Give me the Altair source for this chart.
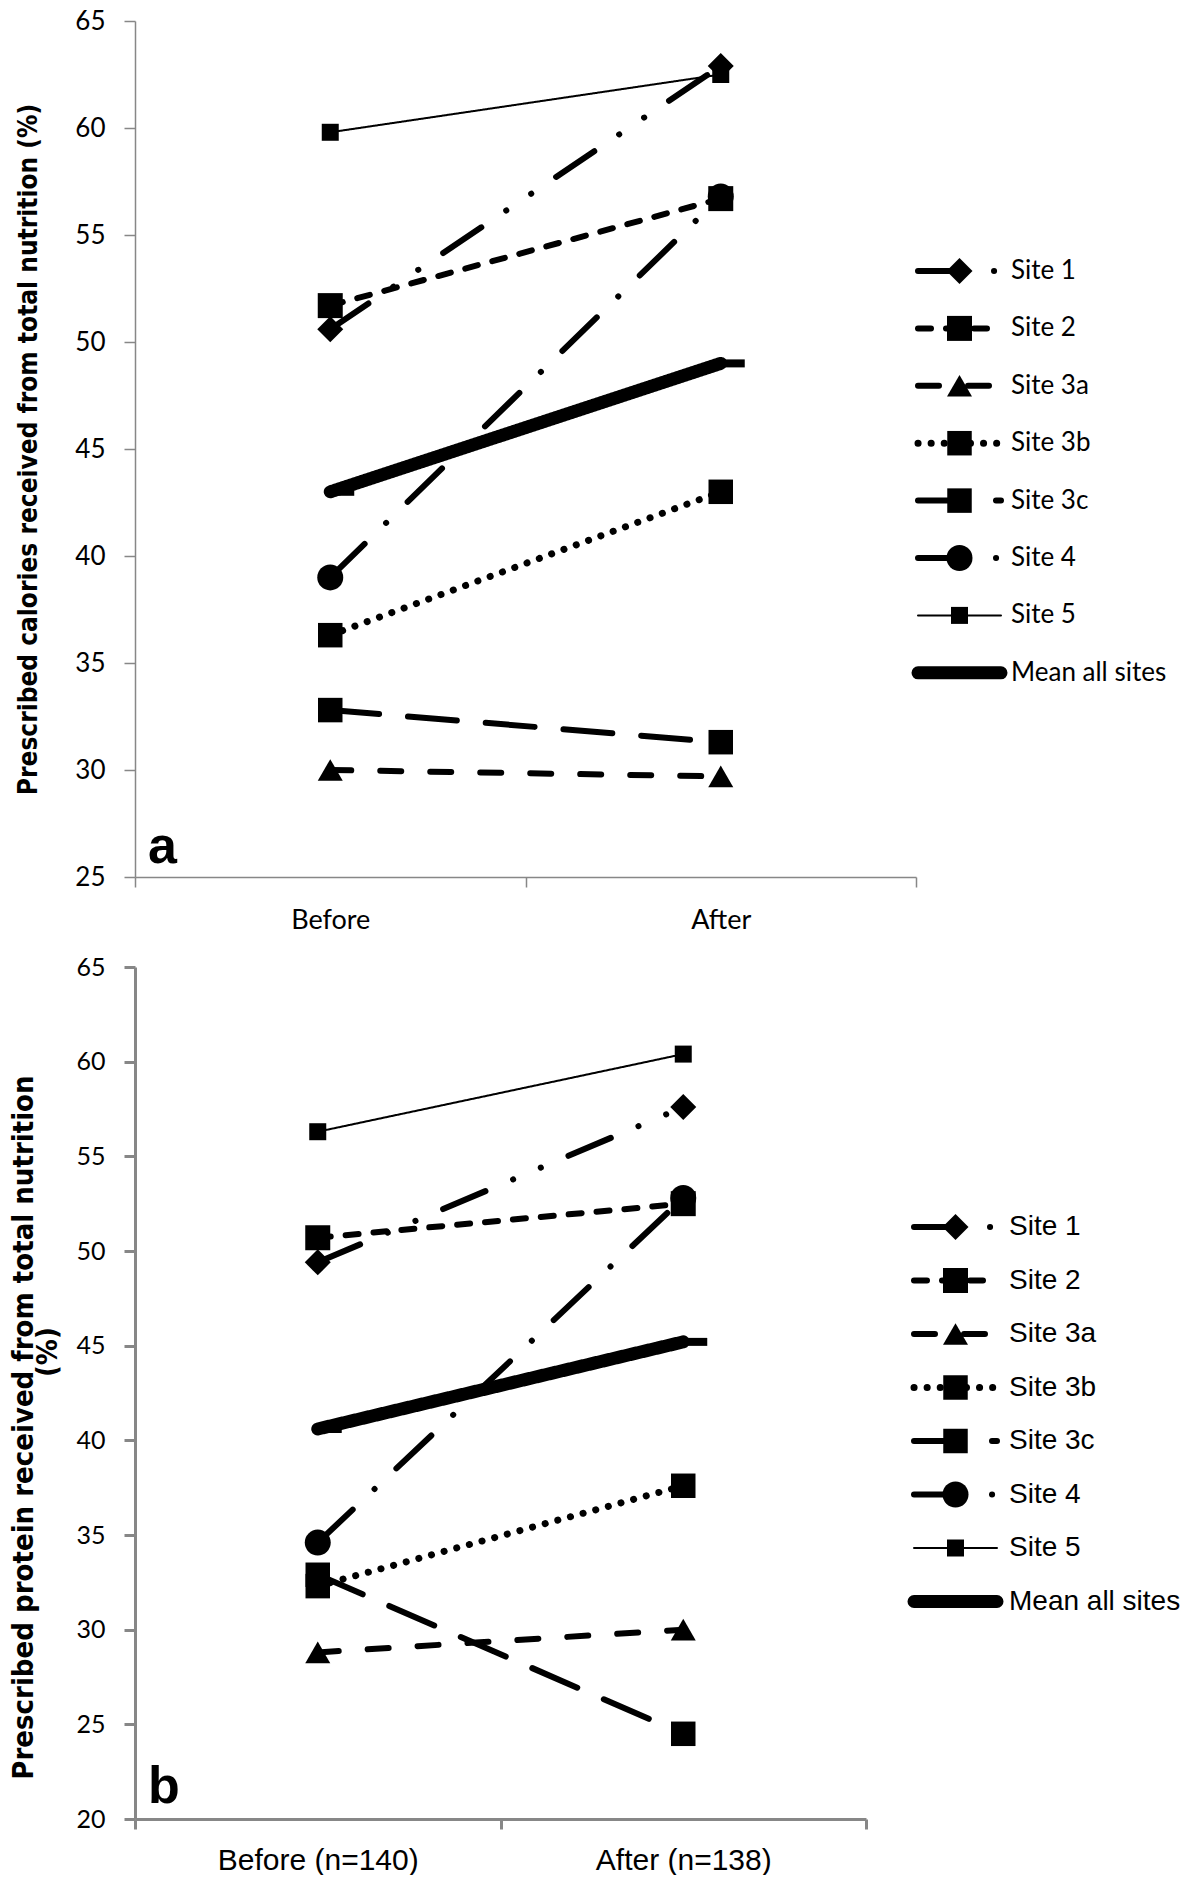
import altair as alt
import pandas as pd

# ---------------- data ----------------
sites = ["Site 1", "Site 2", "Site 3a", "Site 3b", "Site 3c", "Site 4", "Site 5", "Mean all sites"]

phases_a = ["Before", "After"]
calories_before = [50.6, 51.7, 30.0, 36.3, 32.8, 39.0, 59.8, 43.0]
calories_after = [62.9, 56.7, 29.7, 43.0, 31.3, 56.8, 62.5, 49.0]

phases_b = ["Before (n=140)", "After (n=138)"]
protein_before = [49.4, 50.7, 28.8, 32.3, 32.9, 34.6, 56.3, 40.6]
protein_after = [57.6, 52.5, 30.0, 37.6, 24.5, 52.8, 60.4, 45.2]

ticks_a = [25, 30, 35, 40, 45, 50, 55, 60, 65]
ticks_b = [20, 25, 30, 35, 40, 45, 50, 55, 60, 65]

title_a = "Prescribed calories received from total nutrition (%)"
title_b = "Prescribed  protein  received  from total  nutrition"
title_b_unit = "(%)"

# ---------------- styles ----------------
MEAN_BAR = "M0,-0.8L4.8,-0.8L4.8,0.8L0,0.8Z"
dashes = [[46, 30, 0.1, 30, 0.1, 30], [13, 15], [21, 29], [0.1, 13], [49, 29],
          [48, 30, 0.1, 30], [1, 0], [1, 0]]
widths = [6, 6, 6, 7, 6, 6, 2, 13]
shapes = ["diamond", "square", "triangle-up", "square", "square", "circle", "square", MEAN_BAR]
sizes = [676, 625, 625, 600, 600, 676, 289, 100]
legend_sizes = [530, 420, 480, 420, 450, 530, 289, 0]

GRAY = "#878787"
NARROW = "Liberation Sans Narrow, Arial Narrow, DejaVu Sans Condensed, Liberation Sans"


def long_table(phases, before, after):
    rows = []
    for s, b, a in zip(sites, before, after):
        rows.append({"site": s, "phase": phases[0], "value": b})
        rows.append({"site": s, "phase": phases[1], "value": a})
    return pd.DataFrame(rows)


def dash_enc():
    return alt.StrokeDash("site:N", scale=alt.Scale(domain=sites, range=dashes), legend=None)


def width_enc():
    return alt.StrokeWidth("site:N", scale=alt.Scale(type="ordinal", domain=sites, range=widths), legend=None)


def shape_enc():
    return alt.Shape("site:N", scale=alt.Scale(domain=sites, range=shapes), legend=None)


def panel(df, phases, ticks, ytitle, letter, W, H, ylab_size, xfont, xsize, xpad, axis_w,
          tfont_size, title_x, title_y, letter_off, unit=None, unit_x=0):
    x = alt.X("phase:N", sort=phases, title=None, bandPosition=0.5,
              scale=alt.Scale(type="band", domain=phases, paddingInner=0, paddingOuter=0),
              axis=alt.Axis(labelAngle=0, tickBand="extent", grid=False, labelLimit=0,
                            domainColor=GRAY, domainWidth=axis_w, tickColor=GRAY, tickWidth=axis_w,
                            tickSize=10, labelFont=xfont, labelFontSize=xsize, labelColor="black",
                            labelPadding=xpad))
    y = alt.Y("value:Q", scale=alt.Scale(domain=[ticks[0], ticks[-1]], nice=False, zero=False),
              axis=alt.Axis(values=ticks, grid=False, title=ytitle,
                            domainColor=GRAY, domainWidth=axis_w, tickColor=GRAY, tickWidth=axis_w,
                            tickSize=11, labelFont="Lato", labelFontSize=ylab_size, labelColor="black",
                            labelPadding=19, titleFont=NARROW, titleFontWeight="bold",
                            titleFontSize=tfont_size, titleColor="black", titleX=title_x,
                            titleY=title_y, titleBaseline="middle"))
    base = alt.Chart(df)
    lines = base.mark_line(color="black", strokeCap="round", strokeJoin="round").encode(
        x=x, y=y, detail="site:N", strokeDash=dash_enc(), strokeWidth=width_enc())
    pts = base.mark_point(filled=True, color="black", opacity=1, strokeWidth=0).encode(
        x=x, y=y, shape=shape_enc(),
        size=alt.Size("site:N", scale=alt.Scale(type="ordinal", domain=sites, range=sizes), legend=None))
    lab = alt.Chart(pd.DataFrame({"t": [letter]})).mark_text(
        align="left", baseline="alphabetic", font="Liberation Sans", fontWeight="bold",
        fontSize=52, color="black").encode(text="t:N", x=alt.value(13), y=alt.value(H - letter_off))
    layers = [lines, pts, lab]
    if unit is not None:
        layers.append(alt.Chart(pd.DataFrame({"t": [unit]})).mark_text(
            align="center", baseline="middle", angle=270, font=NARROW, fontWeight="bold",
            fontSize=tfont_size, color="black").encode(
            text="t:N", x=alt.value(unit_x), y=alt.value(H * 0.452)))
    return alt.layer(*layers).properties(width=W, height=H)


def legend(W, H, row0, row_step, font, fsize, dx):
    rows = []
    for i, s in enumerate(sites):
        for v in (0, 1):
            rows.append({"site": s, "row": i, "lx": v})
    ldf = pd.DataFrame(rows)
    d0 = -row0 / row_step
    d1 = d0 + H / row_step
    xs = alt.Scale(domain=[0, W / 83.0], nice=False, zero=False)
    x = alt.X("lx:Q", scale=xs, axis=None)
    y = alt.Y("row:Q", scale=alt.Scale(domain=[d0, d1], nice=False, zero=False, reverse=True), axis=None)
    base = alt.Chart(ldf)
    line = base.mark_line(color="black", strokeCap="round", strokeJoin="round").encode(
        x=x, y=y, detail="site:N", strokeDash=dash_enc(), strokeWidth=width_enc())
    pts = base.transform_filter(alt.datum.lx == 0).transform_calculate(mx="0.5").mark_point(
        filled=True, color="black", opacity=1, strokeWidth=0).encode(
        x=alt.X("mx:Q", scale=xs, axis=None),
        y=y, shape=shape_enc(),
        size=alt.Size("site:N", scale=alt.Scale(type="ordinal", domain=sites, range=legend_sizes), legend=None))
    txt = base.transform_filter(alt.datum.lx == 1).mark_text(
        align="left", baseline="middle", dx=dx, font=font, fontSize=fsize, color="black").encode(
        x=x, y=y, text="site:N")
    return alt.layer(line, pts, txt).properties(width=W, height=H)


HA, HB = 856, 852
panel_a = panel(long_table(phases_a, calories_before, calories_after), phases_a, ticks_a, title_a, "a",
                781, HA, 26, "Lato", 27, 20, 1.5, 26, -107, HA * 0.5, 14)
panel_b = panel(long_table(phases_b, protein_before, protein_after), phases_b, ticks_b, title_b, "b",
                731, HB, 25, "Liberation Sans", 30, 16, 3, 29, -112, HB * 0.5 + 34, 16,
                unit=title_b_unit, unit_x=-87)

legend_a = legend(262, HA, 250, 57.4, "Lato", 26, 10)
legend_b = legend(262, HB, 260, 53.5, "Liberation Sans", 28, 12)

row_a = alt.hconcat(panel_a, legend_a, spacing=2, bounds="flush")
row_b = alt.hconcat(panel_b, legend_b, spacing=48, bounds="flush")

chart = alt.vconcat(row_a, row_b, spacing=22).properties(
    padding={"left": 0, "top": 0, "right": 5, "bottom": 0}
).configure_view(stroke=None)

chart.save("out.html", embed_options={"renderer": "svg", "actions": False})
